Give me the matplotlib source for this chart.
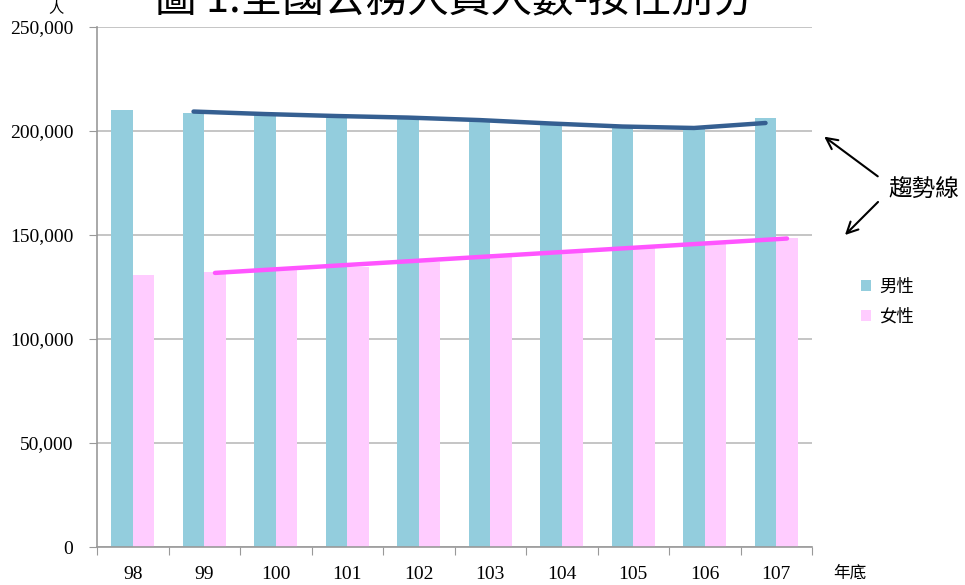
import matplotlib
matplotlib.use("Agg")
import matplotlib.pyplot as plt
import numpy as np

years = ["98", "99", "100", "101", "102", "103", "104", "105", "106", "107"]
male = [210100, 208600, 207700, 206700, 206200, 204300, 202900, 201400, 201500, 206200]
female = [130800, 132200, 133000, 134600, 137000, 140900, 142800, 144200, 146100, 148500]
yticks = [0, 50000, 100000, 150000, 200000, 250000]

plt.rcParams['font.family'] = ['Liberation Serif', 'Noto Sans CJK TC', 'DejaVu Sans']
cjk = ['Noto Sans CJK TC', 'DejaVu Sans']

fig = plt.figure(figsize=(9.65, 5.85), dpi=100)
ax = fig.add_axes([97/965, 1-547/585, (812-97)/965, (547-27)/585])

x = np.arange(len(years))
w = 0.3
c_m = '#93CDDD'
c_f = '#FFCCFF'
ax.bar(x - w/2, male, w, color=c_m, label='男性', zorder=2)
ax.bar(x + w/2, female, w, color=c_f, label='女性', zorder=2)

# trend lines: male 2-period moving average, female linear fit
m = np.array(male, float); f = np.array(female, float)
ma_m = (m[1:] + m[:-1]) / 2
coef = np.polyfit(x, f, 1)
lin_f = np.polyval(coef, x[1:])
ax.plot(x[1:] - w/2, ma_m, color='#355F91', lw=3.2, solid_capstyle='round', zorder=3)
ax.plot(x[1:] + w/2, lin_f, color='#FF55FF', lw=3.2, solid_capstyle='round', zorder=3)

ax.set_xlim(-0.5, len(years) - 0.5)
ax.set_ylim(0, 250000)
ax.set_yticks(yticks)
ax.set_yticklabels([f"{v:,}" for v in yticks], fontsize=14)
ax.yaxis.grid(True, color='#BBBBBB', lw=1.2, zorder=0)
ax.set_axisbelow(True)

ax.set_xticks(np.arange(-0.5, len(years), 1.0))
ax.set_xticklabels([])
ax.set_xticks(x, minor=True)
ax.set_xticklabels(years, minor=True, fontsize=14)
ax.tick_params(axis='x', which='minor', length=0, pad=14)
ax.tick_params(axis='x', which='major', length=6, color='#999999', direction='out')
ax.tick_params(axis='y', length=6, color='#999999', pad=11)

for s in ['top', 'right']:
    ax.spines[s].set_visible(False)
for s in ['left', 'bottom']:
    ax.spines[s].set_color('#999999')
    ax.spines[s].set_linewidth(1.2)

fig.text(455/965, 1 - 1/585, '圖 1.全國公務人員人數-按性別分', ha='center', va='center',
         fontsize=30, family=cjk)
fig.text(56/965, 1 - 8/585, '人', ha='center', va='center', fontsize=11, family=cjk)
fig.text(850/965, 1 - 573/585, '年底', ha='center', va='center', fontsize=12, family=cjk)

leg = ax.legend(loc='upper left', bbox_to_anchor=(845/965, 1 - 262/585), bbox_transform=fig.transFigure,
                frameon=False, prop={'family': cjk, 'size': 12.5}, handlelength=0.6, handleheight=0.6,
                handletextpad=0.5, labelspacing=0.7)

fig.text(924/965, 1 - 190/585, '趨勢線', ha='center', va='center', fontsize=17, family=cjk)
fig.add_artist(matplotlib.patches.FancyArrowPatch((880/965, 1 - 178/585), (822/965, 1 - 135/585),
               transform=fig.transFigure, arrowstyle='->,head_length=8,head_width=4', lw=1.5, color='black'))
fig.add_artist(matplotlib.patches.FancyArrowPatch((880/965, 1 - 200/585), (843/965, 1 - 237/585),
               transform=fig.transFigure, arrowstyle='->,head_length=8,head_width=4', lw=1.5, color='black'))

fig.savefig('out.png', dpi=100)
